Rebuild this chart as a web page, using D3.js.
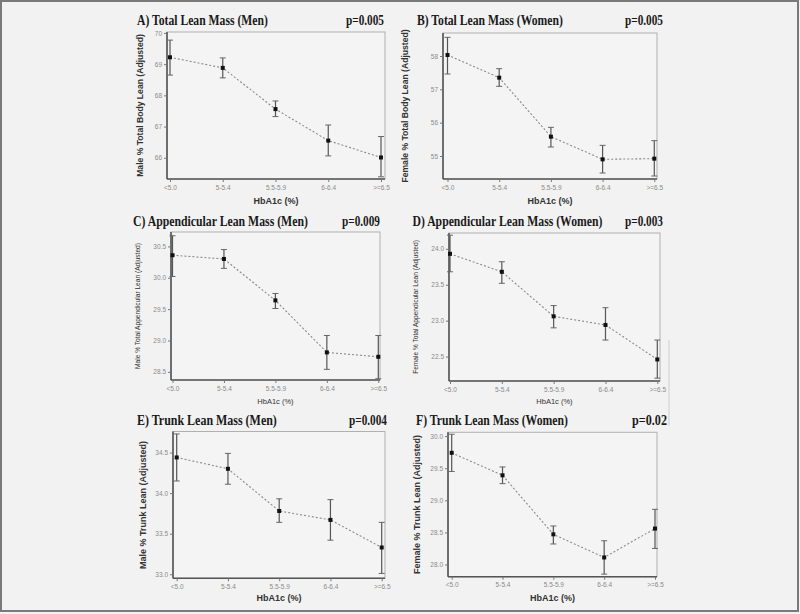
<!DOCTYPE html>
<html><head><meta charset="utf-8">
<script src="https://cdn.jsdelivr.net/npm/d3@7"></script>
<style>
html,body{margin:0;padding:0;background:#f2f2f2;}
svg{display:block;}
</style></head>
<body>
<svg id="chart" width="800" height="614"></svg>
<script>
// ---- data ----
const categories = ["<5.0", "5-5.4", "5.5-5.9", "6-6.4", ">=6.5"];
const titles = ["A) Total Lean Mass (Men)", "B) Total Lean Mass (Women)", "C) Appendicular Lean Mass (Men)",
  "D) Appendicular Lean Mass (Women)", "E) Trunk Lean Mass (Men)", "F) Trunk Lean Mass (Women)"];
const pValues = ["p=0.005", "p=0.005", "p=0.009", "p=0.003", "p=0.004", "p=0.02"];
const yLabels = ["Male % Total Body Lean (Adjusted)", "Female % Total Body Lean (Adjusted)",
  "Male % Total Appendicular Lean (Adjusted)", "Female % Total Appendicular Lean (Adjusted)",
  "Male % Trunk Lean (Adjusted)", "Female % Trunk Lean (Adjusted)"];
const xLabel = "HbA1c (%)";

const meanA = [69.22, 68.88, 67.56, 66.55, 66.01];
const lowA  = [68.65, 68.56, 67.32, 66.06, 65.39];
const highA = [69.77, 69.20, 67.82, 67.05, 66.68];
const meanB = [58.03, 57.35, 55.58, 54.90, 54.92];
const lowB  = [57.46, 57.09, 55.27, 54.49, 54.40];
const highB = [58.56, 57.62, 55.86, 55.32, 55.46];
const meanC = [30.36, 30.30, 29.64, 28.81, 28.74];
const lowC  = [30.02, 30.15, 29.51, 28.54, 28.39];
const highC = [30.67, 30.45, 29.75, 29.08, 29.08];
const meanD = [23.93, 23.68, 23.06, 22.94, 22.46];
const lowD  = [23.68, 23.52, 22.90, 22.73, 22.20];
const highD = [24.19, 23.82, 23.21, 23.18, 22.73];
const meanE = [34.44, 34.30, 33.78, 33.67, 33.33];
const lowE  = [34.15, 34.11, 33.64, 33.42, 33.01];
const highE = [34.73, 34.49, 33.93, 33.92, 33.64];
const meanF = [29.74, 29.39, 28.47, 28.11, 28.56];
const lowF  = [29.45, 29.26, 28.32, 27.85, 28.25];
const highF = [30.03, 29.52, 28.60, 28.37, 28.86];

const yTicksA = [66, 67, 68, 69, 70];
const yTicksB = [55, 56, 57, 58];
const yTicksC = [28.5, 29.0, 29.5, 30.0, 30.5];
const yTicksD = [22.5, 23.0, 23.5, 24.0];
const yTicksE = [33.0, 33.5, 34.0, 34.5];
const yTicksF = [28.0, 28.5, 29.0, 29.5, 30.0];

// ---- layout (positions & styles) ----
const layout = [
  {L:167, R:385, T:32, B:179, x1:170, x5:381, dom:[65.32, 70.03], fmt:"d", titleX:137, titleY:25, titleW:131, pX:384, pW:38, ylX:141, ylSize:8.6, ylBold:true, xlY:204, xlSize:9, xlBold:true},
  {L:443, R:657, T:33, B:179, x1:447.5, x5:654.3, dom:[54.31, 58.69], fmt:"d", titleX:417, titleY:25, titleW:146, pX:663, pW:38, ylX:406, ylSize:8.6, ylBold:true, xlY:204, xlSize:9, xlBold:true},
  {L:171, R:380, T:232, B:380, x1:172.5, x5:378.3, dom:[28.37, 30.73], fmt:".1f", titleX:133, titleY:226, titleW:175, pX:380, pW:38, ylX:138, ylSize:6.6, ylBold:false, xlY:404, xlSize:7.5, xlBold:false},
  {L:449, R:660, T:233, B:381, x1:450, x5:657.3, dom:[22.16, 24.22], fmt:".1f", titleX:412.5, titleY:226, titleW:190, pX:663, pW:38, ylX:416, ylSize:6.6, ylBold:false, xlY:404, xlSize:7.5, xlBold:false},
  {L:173, R:385, T:431.5, B:578.3, x1:176.7, x5:381.7, dom:[32.95, 34.76], fmt:".1f", titleX:137, titleY:425, titleW:140, pX:387, pW:38, ylX:144, ylSize:9, ylBold:true, xlY:601, xlSize:9, xlBold:true},
  {L:448, R:657, T:432.3, B:576.7, x1:451.7, x5:655, dom:[27.81, 30.06], fmt:".1f", titleX:416, titleY:425, titleW:152, pX:667, pW:35, ylX:418, ylSize:9, ylBold:true, xlY:601, xlSize:9, xlBold:true}
];

const panels = [
  {mean:meanA, low:lowA, high:highA, ticks:yTicksA},
  {mean:meanB, low:lowB, high:highB, ticks:yTicksB},
  {mean:meanC, low:lowC, high:highC, ticks:yTicksC},
  {mean:meanD, low:lowD, high:highD, ticks:yTicksD},
  {mean:meanE, low:lowE, high:highE, ticks:yTicksE},
  {mean:meanF, low:lowF, high:highF, ticks:yTicksF}
];

const svg = d3.select("#chart");
// frame
svg.append("rect").attr("x", 0).attr("y", 0).attr("width", 800).attr("height", 614).attr("fill", "#f2f2f2");
svg.append("rect").attr("x", 1).attr("y", 1).attr("width", 797).attr("height", 610)
  .attr("fill", "none").attr("stroke", "#7a7a7a").attr("stroke-width", 2);
// faint scan artefact line
svg.append("line").attr("x1", 669).attr("x2", 669).attr("y1", 340).attr("y2", 426)
  .attr("stroke", "#cfcfcf").attr("stroke-width", 1);

const sans = "'Liberation Sans', Arial, sans-serif";
const serif = "'Liberation Serif', 'Times New Roman', serif";

// text squeezed horizontally to a target width (condensed look of the original)
function fitText(g, str, x, y, w) {
  const t = g.append("text").attr("x", 0).attr("y", 0).text(str)
    .attr("font-family", serif).attr("font-weight", "bold").attr("font-size", 14).attr("fill", "#1a1a1a");
  const nat = t.node().getComputedTextLength();
  t.attr("transform", `translate(${x},${y}) scale(${w / nat},1)`);
}

panels.forEach((p, i) => {
  const lo = layout[i];
  const g = svg.append("g");
  const x = d3.scalePoint().domain(categories).range([lo.x1, lo.x5]);
  const y = d3.scaleLinear().domain(lo.dom).range([lo.B, lo.T]);

  // plot background and box
  g.append("rect").attr("x", lo.L).attr("y", lo.T).attr("width", lo.R - lo.L).attr("height", lo.B - lo.T)
    .attr("fill", "#f4f4f4").attr("stroke", "#b0b0b0").attr("stroke-width", 1);

  // axes
  const yAxis = d3.axisLeft(y).tickValues(p.ticks).tickSize(3).tickPadding(2).tickFormat(d3.format(lo.fmt));
  const xAxis = d3.axisBottom(x).tickSize(3).tickPadding(3);
  const ya = g.append("g").attr("transform", `translate(${lo.L},0)`).call(yAxis);
  const xa = g.append("g").attr("transform", `translate(0,${lo.B})`).call(xAxis);
  [ya, xa].forEach(a => {
    a.select(".domain").attr("stroke", "#555").attr("stroke-width", 1.6);
    a.selectAll(".tick line").attr("stroke", "#777");
    a.selectAll(".tick text").attr("fill", "#8a8a8a").attr("font-family", sans).attr("font-size", 6.5);
  });
  ya.select(".domain").attr("d", `M0,${lo.T}V${lo.B}`);
  xa.select(".domain").attr("d", `M${lo.L},0H${lo.R}`);

  // line
  const line = d3.line().x((d, j) => x(categories[j])).y(d => y(d));
  g.append("path").datum(p.mean).attr("d", line).attr("fill", "none")
    .attr("stroke", "#8a8a8a").attr("stroke-width", 1.1).attr("stroke-dasharray", "2,2");

  // error bars
  const eb = g.append("g").selectAll("g").data(categories).join("g");
  eb.append("line").attr("x1", d => x(d)).attr("x2", d => x(d))
    .attr("y1", (d, j) => y(p.low[j])).attr("y2", (d, j) => y(p.high[j]))
    .attr("stroke", "#555").attr("stroke-width", 1.2);
  ["low", "high"].forEach(k => {
    eb.append("line").attr("x1", d => x(d) - 3).attr("x2", d => x(d) + 3)
      .attr("y1", (d, j) => y(p[k][j])).attr("y2", (d, j) => y(p[k][j]))
      .attr("stroke", "#666").attr("stroke-width", 1);
  });
  // points
  g.append("g").selectAll("rect").data(p.mean).join("rect")
    .attr("x", (d, j) => x(categories[j]) - 2).attr("y", d => y(d) - 2)
    .attr("width", 4).attr("height", 4).attr("fill", "#111");

  // titles
  fitText(g, titles[i], lo.titleX, lo.titleY, lo.titleW);
  fitText(g, pValues[i], lo.pX - lo.pW, lo.titleY, lo.pW);

  // y label
  g.append("text").attr("transform", `translate(${lo.ylX},${(lo.T + lo.B) / 2}) rotate(-90)`)
    .attr("text-anchor", "middle").attr("dominant-baseline", "middle").text(yLabels[i])
    .attr("font-family", sans).attr("font-weight", lo.ylBold ? "bold" : "normal")
    .attr("font-size", lo.ylSize).attr("fill", "#333");
  // x label
  g.append("text").attr("x", (lo.L + lo.R) / 2).attr("y", lo.xlY).attr("text-anchor", "middle").text(xLabel)
    .attr("font-family", sans).attr("font-weight", lo.xlBold ? "bold" : "normal")
    .attr("font-size", lo.xlSize).attr("fill", "#333");
});
</script>
</body></html>
